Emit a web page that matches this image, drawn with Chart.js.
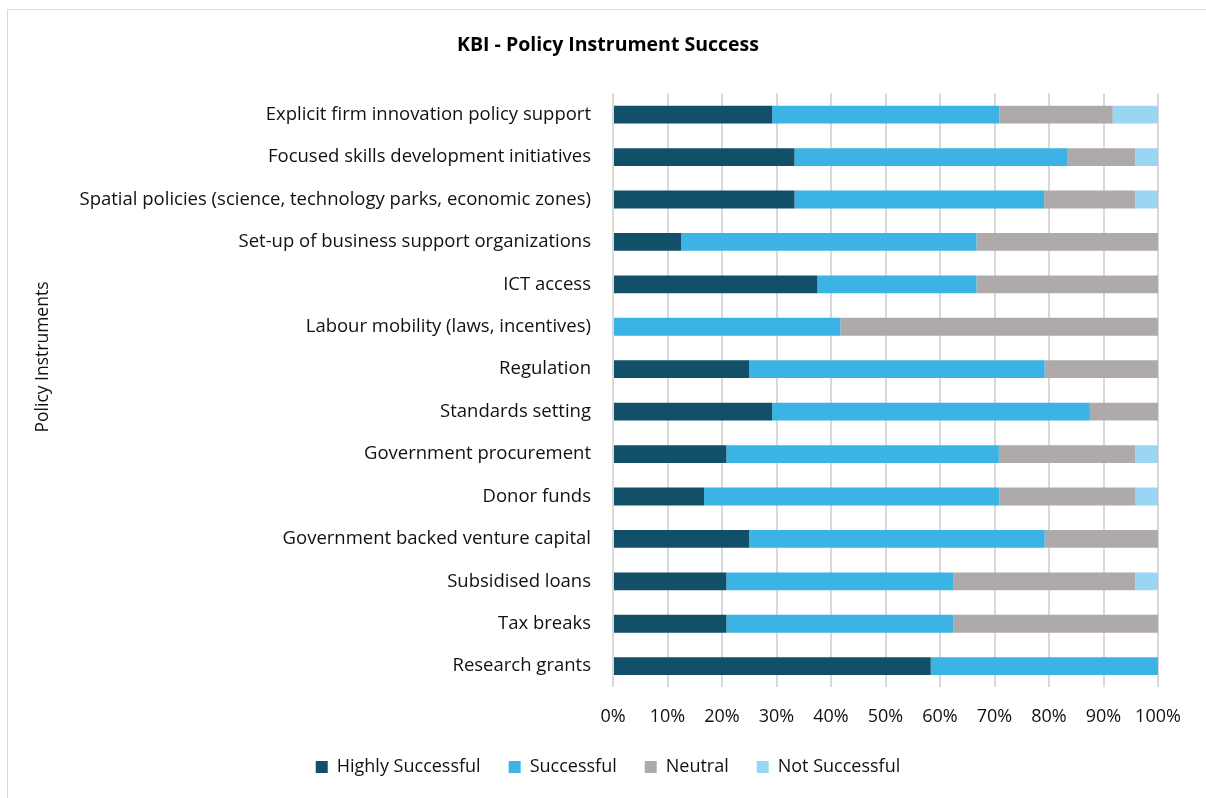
<!DOCTYPE html>
<html>
<head>
<meta charset="utf-8">
<script src="https://cdn.jsdelivr.net/npm/chart.js@4"></script>
<style>
  html, body { margin: 0; padding: 0; background: #fff; overflow: hidden; }
  .frame {
    position: absolute; left: 7px; top: 9px; width: 1300px; height: 900px;
    border: 1px solid #d9d9d9; box-sizing: border-box;
  }
  .wrap { position: absolute; left: 0; top: 0; width: 1206px; height: 798px; }
</style>
</head>
<body>
<div class="frame"></div>
<div class="wrap"><canvas id="kbiChart" width="1206" height="798"></canvas></div>
<script>
// Policy instruments, top to bottom
const instruments = [
  "Explicit firm innovation policy support",
  "Focused skills development initiatives",
  "Spatial policies (science, technology parks, economic zones)",
  "Set-up of business support organizations",
  "ICT access",
  "Labour mobility (laws, incentives)",
  "Regulation",
  "Standards setting",
  "Government procurement",
  "Donor funds",
  "Government backed venture capital",
  "Subsidised loans",
  "Tax breaks",
  "Research grants"
];

// share of responses per rating (%)
const highlySuccessful = [29.2, 33.3, 33.3, 12.5, 37.5, 0, 25, 29.2, 20.8, 16.7, 25, 20.8, 20.8, 58.3];
const successful       = [41.7, 50, 45.8, 54.2, 29.2, 41.7, 54.2, 58.3, 50, 54.2, 54.2, 41.7, 41.7, 41.7];
const neutral          = [20.8, 12.5, 16.7, 33.3, 33.3, 58.3, 20.8, 12.5, 25, 25, 20.8, 33.3, 37.5, 0];
const notSuccessful    = [8.3, 4.2, 4.2, 0, 0, 0, 0, 0, 4.2, 4.2, 0, 4.2, 0, 0];

const xTicks = [0, 10, 20, 30, 40, 50, 60, 70, 80, 90, 100];

const font = "'Open Sans', Lato, sans-serif";
Chart.defaults.font.family = font;
Chart.defaults.color = "#111";

function series(label, data, color) {
  return {
    label: label,
    data: data,
    backgroundColor: color,
    borderWidth: 0,
    barPercentage: 0.42,
    categoryPercentage: 1
  };
}

// vertical axis title, drawn a bit above the middle of the plot
const yAxisTitle = {
  id: "yAxisTitle",
  afterDraw(chart) {
    const ctx = chart.ctx;
    ctx.save();
    ctx.translate(43, 357);
    ctx.rotate(-Math.PI / 2);
    ctx.font = "17.5px " + font;
    ctx.fillStyle = "#111";
    ctx.textAlign = "center";
    ctx.textBaseline = "middle";
    ctx.fillText("Policy Instruments", 0, 0);
    ctx.restore();
  }
};

new Chart(document.getElementById("kbiChart"), {
  type: "bar",
  data: {
    labels: instruments,
    datasets: [
      series("Highly Successful", highlySuccessful, "#124f69"),
      series("Successful", successful, "#3bb3e4"),
      series("Neutral", neutral, "#aeaaaa"),
      series("Not Successful", notSuccessful, "#9ad6f4")
    ]
  },
  options: {
    indexAxis: "y",
    responsive: false,
    animation: false,
    layout: { padding: { left: 58, right: 48, top: 0, bottom: 12 } },
    scales: {
      x: {
        stacked: true,
        min: 0,
        max: 100,
        afterBuildTicks: function (scale) {
          scale.ticks = xTicks.map(v => ({ value: v }));
        },
        afterFit: function (scale) {
          scale.height = scale.height - 17;
        },
        grid: { color: "#d9d9d9", lineWidth: 2, drawTicks: false },
        border: { display: false },
        ticks: {
          padding: 19,
          font: { size: 18 },
          callback: v => v + "%"
        }
      },
      y: {
        stacked: true,
        grid: { display: false },
        border: { display: false },
        ticks: { padding: 14, font: { size: 18.5 } },
        afterFit: function (scale) {
          scale.width = 555;
        }
      }
    },
    plugins: {
      title: {
        display: true,
        text: "KBI - Policy Instrument Success",
        font: { size: 19.5, weight: "bold" },
        color: "#000",
        padding: { top: 34, bottom: 36 }
      },
      legend: {
        position: "bottom",
        labels: {
          boxWidth: 12,
          boxHeight: 12,
          padding: 28,
          font: { size: 18 }
        }
      },
      tooltip: { enabled: false }
    }
  },
  plugins: [yAxisTitle]
});
</script>
</body>
</html>
